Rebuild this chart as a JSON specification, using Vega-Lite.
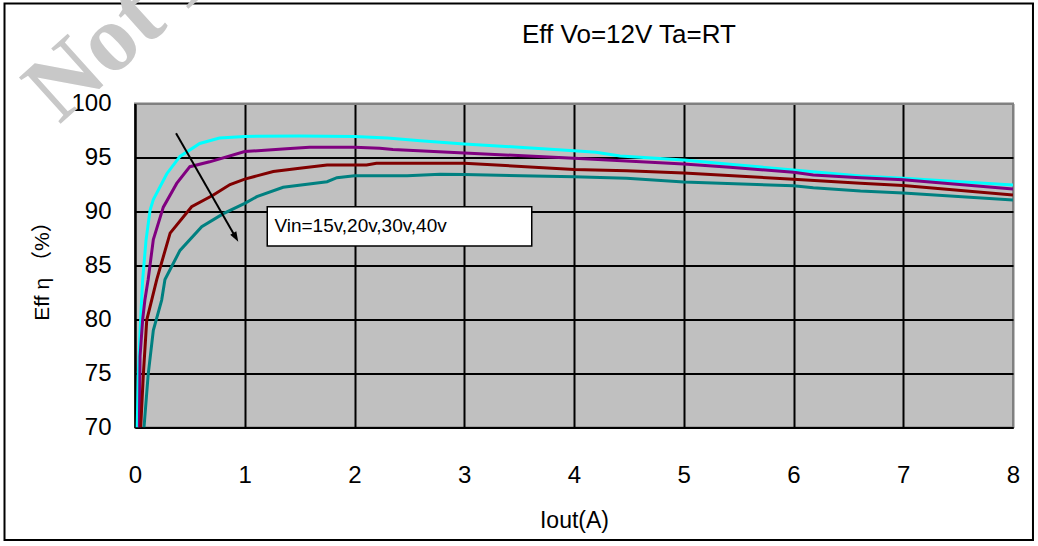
{
  "$schema": "https://vega.github.io/schema/vega-lite/v6.json",
  "width": 878,
  "height": 324,
  "autosize": {"type": "none"},
  "padding": {"left": 135, "top": 103.5, "right": 25, "bottom": 118.5},
  "background": "#ffffff",
  "config": {
    "view": {"fill": "#C0C0C0", "stroke": "#808080", "strokeWidth": 2},
    "font": "Liberation Sans",
    "axis": {
      "labelFont": "Liberation Sans",
      "labelColor": "#000000",
      "titleFont": "Liberation Sans, Noto Sans CJK JP",
      "titleColor": "#000000",
      "titleFontWeight": "normal",
      "domainColor": "#000000",
      "domainWidth": 2,
      "gridWidth": 2,
      "gridOpacity": 1,
      "ticks": false
    }
  },
  "data": {
    "values": [
      {"vin": "15v", "iout": 0.02, "eff": 70.0},
      {"vin": "15v", "iout": 0.03, "eff": 74.9},
      {"vin": "15v", "iout": 0.046, "eff": 78.8},
      {"vin": "15v", "iout": 0.06, "eff": 81.8},
      {"vin": "15v", "iout": 0.07, "eff": 83.7},
      {"vin": "15v", "iout": 0.1, "eff": 87.3},
      {"vin": "15v", "iout": 0.137, "eff": 90.1},
      {"vin": "15v", "iout": 0.167, "eff": 91.1},
      {"vin": "15v", "iout": 0.29, "eff": 93.5},
      {"vin": "15v", "iout": 0.41, "eff": 95.1},
      {"vin": "15v", "iout": 0.59, "eff": 96.3},
      {"vin": "15v", "iout": 0.77, "eff": 96.8},
      {"vin": "15v", "iout": 1.0, "eff": 96.95},
      {"vin": "15v", "iout": 1.5, "eff": 97.0},
      {"vin": "15v", "iout": 2.0, "eff": 96.95},
      {"vin": "15v", "iout": 2.3, "eff": 96.8},
      {"vin": "15v", "iout": 2.6, "eff": 96.55},
      {"vin": "15v", "iout": 3.0, "eff": 96.25},
      {"vin": "15v", "iout": 3.5, "eff": 95.95},
      {"vin": "15v", "iout": 4.0, "eff": 95.63},
      {"vin": "15v", "iout": 4.2, "eff": 95.48},
      {"vin": "15v", "iout": 4.42, "eff": 95.14},
      {"vin": "15v", "iout": 5.0, "eff": 94.77},
      {"vin": "15v", "iout": 5.42, "eff": 94.37},
      {"vin": "15v", "iout": 6.0, "eff": 93.84},
      {"vin": "15v", "iout": 6.61, "eff": 93.29},
      {"vin": "15v", "iout": 7.0, "eff": 93.07},
      {"vin": "15v", "iout": 8.0, "eff": 92.45},

      {"vin": "20v", "iout": 0.04, "eff": 70.0},
      {"vin": "20v", "iout": 0.046, "eff": 76.6},
      {"vin": "20v", "iout": 0.07, "eff": 80.0},
      {"vin": "20v", "iout": 0.09, "eff": 81.8},
      {"vin": "20v", "iout": 0.12, "eff": 83.7},
      {"vin": "20v", "iout": 0.167, "eff": 87.4},
      {"vin": "20v", "iout": 0.258, "eff": 90.4},
      {"vin": "20v", "iout": 0.38, "eff": 92.6},
      {"vin": "20v", "iout": 0.5, "eff": 94.15},
      {"vin": "20v", "iout": 0.68, "eff": 94.6},
      {"vin": "20v", "iout": 1.0, "eff": 95.55},
      {"vin": "20v", "iout": 1.38, "eff": 95.8},
      {"vin": "20v", "iout": 1.59, "eff": 95.94},
      {"vin": "20v", "iout": 2.0, "eff": 95.94},
      {"vin": "20v", "iout": 2.23, "eff": 95.85},
      {"vin": "20v", "iout": 2.35, "eff": 95.75},
      {"vin": "20v", "iout": 3.0, "eff": 95.42},
      {"vin": "20v", "iout": 4.0, "eff": 94.93},
      {"vin": "20v", "iout": 5.0, "eff": 94.4},
      {"vin": "20v", "iout": 5.42, "eff": 94.1},
      {"vin": "20v", "iout": 6.0, "eff": 93.63},
      {"vin": "20v", "iout": 6.18, "eff": 93.38},
      {"vin": "20v", "iout": 6.61, "eff": 93.13},
      {"vin": "20v", "iout": 7.0, "eff": 92.95},
      {"vin": "20v", "iout": 8.0, "eff": 92.09},

      {"vin": "30v", "iout": 0.052, "eff": 70.0},
      {"vin": "30v", "iout": 0.076, "eff": 74.9},
      {"vin": "30v", "iout": 0.107, "eff": 79.95},
      {"vin": "30v", "iout": 0.152, "eff": 81.8},
      {"vin": "30v", "iout": 0.198, "eff": 83.7},
      {"vin": "30v", "iout": 0.32, "eff": 88.0},
      {"vin": "30v", "iout": 0.516, "eff": 90.44},
      {"vin": "30v", "iout": 0.71, "eff": 91.5},
      {"vin": "30v", "iout": 0.866, "eff": 92.5},
      {"vin": "30v", "iout": 1.0, "eff": 93.0},
      {"vin": "30v", "iout": 1.11, "eff": 93.3},
      {"vin": "30v", "iout": 1.26, "eff": 93.7},
      {"vin": "30v", "iout": 1.5, "eff": 94.0},
      {"vin": "30v", "iout": 1.75, "eff": 94.3},
      {"vin": "30v", "iout": 2.11, "eff": 94.3},
      {"vin": "30v", "iout": 2.2, "eff": 94.46},
      {"vin": "30v", "iout": 3.0, "eff": 94.46},
      {"vin": "30v", "iout": 4.0, "eff": 93.9},
      {"vin": "30v", "iout": 4.48, "eff": 93.78},
      {"vin": "30v", "iout": 5.0, "eff": 93.57},
      {"vin": "30v", "iout": 6.0, "eff": 92.98},
      {"vin": "30v", "iout": 6.61, "eff": 92.61},
      {"vin": "30v", "iout": 7.0, "eff": 92.4},
      {"vin": "30v", "iout": 8.0, "eff": 91.53},

      {"vin": "40v", "iout": 0.082, "eff": 70.0},
      {"vin": "40v", "iout": 0.12, "eff": 74.9},
      {"vin": "40v", "iout": 0.167, "eff": 79.0},
      {"vin": "40v", "iout": 0.243, "eff": 81.8},
      {"vin": "40v", "iout": 0.273, "eff": 83.7},
      {"vin": "40v", "iout": 0.41, "eff": 86.4},
      {"vin": "40v", "iout": 0.608, "eff": 88.6},
      {"vin": "40v", "iout": 0.805, "eff": 89.8},
      {"vin": "40v", "iout": 1.0, "eff": 90.76},
      {"vin": "40v", "iout": 1.11, "eff": 91.37},
      {"vin": "40v", "iout": 1.35, "eff": 92.24},
      {"vin": "40v", "iout": 1.75, "eff": 92.76},
      {"vin": "40v", "iout": 1.84, "eff": 93.13},
      {"vin": "40v", "iout": 2.0, "eff": 93.3},
      {"vin": "40v", "iout": 2.48, "eff": 93.31},
      {"vin": "40v", "iout": 2.78, "eff": 93.44},
      {"vin": "40v", "iout": 3.0, "eff": 93.42},
      {"vin": "40v", "iout": 4.0, "eff": 93.22},
      {"vin": "40v", "iout": 4.48, "eff": 93.07},
      {"vin": "40v", "iout": 5.0, "eff": 92.73},
      {"vin": "40v", "iout": 6.0, "eff": 92.39},
      {"vin": "40v", "iout": 6.18, "eff": 92.2},
      {"vin": "40v", "iout": 6.61, "eff": 91.9},
      {"vin": "40v", "iout": 7.0, "eff": 91.72},
      {"vin": "40v", "iout": 8.0, "eff": 91.07}
    ]
  },
  "layer": [
    {
      "mark": {"type": "line", "strokeWidth": 3, "clip": true},
      "encoding": {
        "x": {
          "field": "iout",
          "type": "quantitative",
          "scale": {"domain": [0, 8], "nice": false, "zero": false},
          "axis": {
            "values": [0, 1, 2, 3, 4, 5, 6, 7, 8],
            "format": "d",
            "labelFontSize": 24,
            "labelPadding": 36,
            "labelFlush": false,
            "title": "Iout(A)",
            "titleFontSize": 23,
            "titlePadding": 22,
            "gridColor": {"condition": {"test": "datum.value == 8", "value": "#808080"}, "value": "#000000"}
          }
        },
        "y": {
          "field": "eff",
          "type": "quantitative",
          "scale": {"domain": [70, 100], "nice": false, "zero": false},
          "axis": {
            "values": [70, 75, 80, 85, 90, 95, 100],
            "format": "d",
            "labelFontSize": 24,
            "labelPadding": 24,
            "labelFlush": false,
            "title": "Eff η （%）",
            "titleFontSize": 21,
            "titlePadding": 18,
            "gridColor": {"condition": {"test": "datum.value == 100", "value": "#808080"}, "value": "#000000"}
          }
        },
        "color": {
          "field": "vin",
          "type": "nominal",
          "scale": {"domain": ["15v", "20v", "30v", "40v"], "range": ["#00FFFF", "#800080", "#800000", "#008080"]},
          "legend": null
        }
      }
    },
    {
      "data": {"values": [{}]},
      "mark": {"type": "rect", "fill": "#FFFFFF", "stroke": "#000000", "strokeWidth": 1.5},
      "encoding": {
        "x": {"datum": 1.205, "type": "quantitative"},
        "x2": {"datum": 3.615},
        "y": {"datum": 90.44, "type": "quantitative"},
        "y2": {"datum": 86.8}
      }
    },
    {
      "data": {"values": [{}]},
      "mark": {"type": "text", "text": "Vin=15v,20v,30v,40v", "align": "left", "baseline": "middle", "font": "Liberation Sans", "fontSize": 19, "color": "#000000"},
      "encoding": {
        "x": {"datum": 1.27, "type": "quantitative"},
        "y": {"datum": 88.7, "type": "quantitative"}
      }
    },
    {
      "data": {"values": [{}]},
      "mark": {"type": "rule", "color": "#000000", "strokeWidth": 2},
      "encoding": {
        "x": {"datum": 0.374, "type": "quantitative"},
        "x2": {"datum": 0.918},
        "y": {"datum": 97.24, "type": "quantitative"},
        "y2": {"datum": 87.6}
      }
    },
    {
      "data": {"values": [{}]},
      "mark": {"type": "point", "shape": "M0,-1L0.7,1L-0.7,1Z", "filled": true, "color": "#000000", "opacity": 1, "size": 100, "angle": 150},
      "encoding": {
        "x": {"datum": 0.918, "type": "quantitative"},
        "y": {"datum": 87.6, "type": "quantitative"}
      }
    },
    {
      "data": {"values": [{}]},
      "mark": {"type": "text", "text": "Eff Vo=12V Ta=RT", "align": "left", "baseline": "alphabetic", "font": "Liberation Sans", "fontSize": 26, "color": "#000000", "clip": false},
      "encoding": {
        "x": {"datum": 3.526, "type": "quantitative"},
        "y": {"datum": 105.57, "type": "quantitative"}
      }
    },
    {
      "data": {"values": [{}]},
      "mark": {"type": "rect", "fill": null, "fillOpacity": 0, "stroke": "#000000", "strokeWidth": 2, "clip": false},
      "encoding": {
        "x": {"datum": -1.189, "type": "quantitative"},
        "x2": {"datum": 8.182},
        "y": {"datum": 109.26, "type": "quantitative"},
        "y2": {"datum": 59.58}
      }
    },
    {
      "data": {"values": [{}]},
      "mark": {"type": "text", "text": "Not Recommended", "align": "left", "baseline": "alphabetic", "font": "Liberation Serif", "fontWeight": "bold", "fontSize": 95, "angle": -42, "color": "#C8C8C8", "clip": false},
      "encoding": {
        "x": {"datum": -0.69, "type": "quantitative"},
        "y": {"datum": 98.0, "type": "quantitative"}
      }
    }
  ]
}
